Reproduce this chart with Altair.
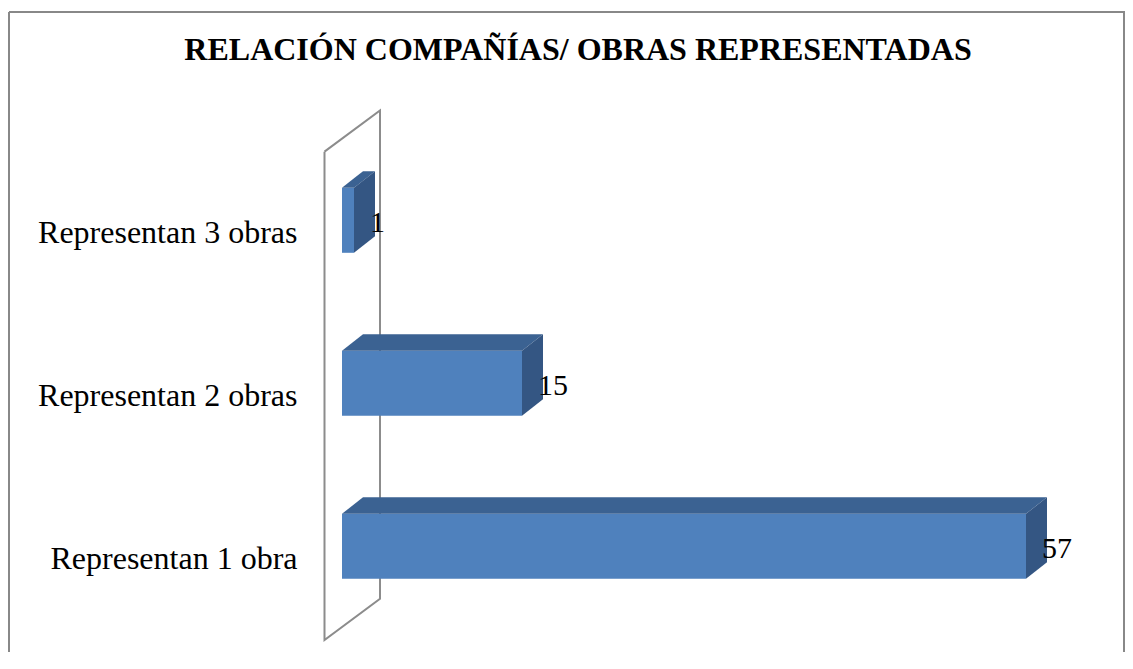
import altair as alt
import pandas as pd

# ---- data ----
categories = ["Representan 1 obra", "Representan 2 obras", "Representan 3 obras"]
values = [57, 15, 1]
positions = [0, 1, 2]

title_text = "RELACIÓN COMPAÑÍAS/ OBRAS REPRESENTADAS"

# ---- geometry / style constants ----
W, H = 1116, 640
PX_X = 12.0          # px per unit on x
PX_Y = 163.0         # px per category step
X0_PLOT = 333.0      # plot-x of value 0
Y0_PLOT = 534.3      # plot-y of category 0
xmin = -X0_PLOT / PX_X
xmax = xmin + W / PX_X
ymax = Y0_PLOT / PX_Y
ymin = ymax - H / PX_Y

HALF = 32.5 / PX_Y   # half bar thickness
DX = 21.0 / PX_X     # 3-D depth offset on x
DY = 16.5 / PX_Y     # 3-D depth offset on y

# wall (side plane) extent
WALL_FRONT_X = -17.5 / PX_X
WALL_BACK_X = 38.0 / PX_X
WALL_TOP = 2.421
WALL_BOTTOM = -0.575
WALL_RISE = 0.253

FRONT = "#4F81BD"
TOP = "#3B6292"
SIDE = "#345683"
FONT = "Liberation Serif"

xs = alt.Scale(domain=[xmin, xmax], nice=False, zero=False)
ys = alt.Scale(domain=[ymin, ymax], nice=False, zero=False)


def polygon_band(poly):
    """Return (x, upper, lower) rows for a convex polygon for an area mark."""
    xs_ = sorted(set(round(p[0], 9) for p in poly))
    rows = []
    n = len(poly)
    for x in xs_:
        hits = []
        for i in range(n):
            (px, py), (qx, qy) = poly[i], poly[(i + 1) % n]
            lo, hi = min(px, qx), max(px, qx)
            if lo - 1e-9 <= x <= hi + 1e-9:
                if abs(qx - px) < 1e-12:
                    hits += [py, qy]
                else:
                    t = (x - px) / (qx - px)
                    hits.append(py + t * (qy - py))
        rows.append((x, max(hits), min(hits)))
    return rows


bars = pd.DataFrame({"cat": categories, "value": values, "pos": positions})
bars["lo"] = bars["pos"] - HALF
bars["hi"] = bars["pos"] + HALF

top_rows, side_rows = [], []
for c, v, p in zip(categories, values, positions):
    t, b = p + HALF, p - HALF
    top_poly = [(0, t), (v, t), (v + DX, t + DY), (DX, t + DY)]
    side_poly = [(v, b), (v, t), (v + DX, t + DY), (v + DX, b + DY)]
    for x, u, l in polygon_band(top_poly):
        top_rows.append({"face": c, "x": x, "u": u, "l": l})
    for x, u, l in polygon_band(side_poly):
        side_rows.append({"face": c, "x": x, "u": u, "l": l})
top_df = pd.DataFrame(top_rows)
side_df = pd.DataFrame(side_rows)

wall_pts = [
    (WALL_FRONT_X, WALL_TOP),
    (WALL_BACK_X, WALL_TOP + WALL_RISE),
    (WALL_BACK_X, WALL_BOTTOM + WALL_RISE),
    (WALL_FRONT_X, WALL_BOTTOM),
    (WALL_FRONT_X, WALL_TOP),
]
wall_df = pd.DataFrame({"x": [p[0] for p in wall_pts],
                        "y": [p[1] for p in wall_pts],
                        "o": list(range(len(wall_pts)))})

label_expr = " : ".join(
    f"datum.value == {p} ? '{c}'" for p, c in zip(positions, categories)
) + " : ''"

y_axis = alt.Axis(
    values=positions, labelExpr=label_expr, grid=False, domain=False,
    ticks=False, tickSize=0, labelPadding=0, offset=-288,
    labelFont=FONT, labelFontSize=32, labelColor="black",
    labelAlign="right", labelBaseline="alphabetic", labelOffset=22,
    labelLimit=500, title=None,
)

wall = alt.Chart(wall_df).mark_line(color="#8C8C8C", strokeWidth=2).encode(
    x=alt.X("x:Q", scale=xs, axis=None),
    y=alt.Y("y:Q", scale=ys, axis=y_axis),
    order="o:Q",
)

front = alt.Chart(bars).mark_rect(color=FRONT).encode(
    x=alt.X("value:Q", scale=xs, axis=None),
    x2=alt.datum(0),
    y=alt.Y("lo:Q", scale=ys, axis=y_axis),
    y2="hi:Q",
)

top = alt.Chart(top_df).mark_area(color=TOP, orient="vertical").encode(
    x=alt.X("x:Q", scale=xs, axis=None),
    y=alt.Y("u:Q", scale=ys, axis=y_axis, stack=False),
    y2="l:Q",
    detail="face:N",
)

side = alt.Chart(side_df).mark_area(color=SIDE, orient="vertical").encode(
    x=alt.X("x:Q", scale=xs, axis=None),
    y=alt.Y("u:Q", scale=ys, axis=y_axis, stack=False),
    y2="l:Q",
    detail="face:N",
)

vals = alt.Chart(bars).mark_text(
    font=FONT, fontSize=30, color="black", align="left",
    baseline="alphabetic", dx=16, dy=11.5,
).encode(
    x=alt.X("value:Q", scale=xs, axis=None),
    y=alt.Y("pos:Q", scale=ys, axis=y_axis),
    text="value:Q",
)

one = pd.DataFrame({"k": [0]})
frame_col = "#888888"
f_top = alt.Chart(one).mark_rule(color=frame_col, strokeWidth=2).encode(
    x=alt.value(0), x2=alt.value(W), y=alt.value(0))
f_left = alt.Chart(one).mark_rule(color=frame_col, strokeWidth=2).encode(
    x=alt.value(0), y=alt.value(0), y2=alt.value(H))
f_right = alt.Chart(one).mark_rule(color=frame_col, strokeWidth=2).encode(
    x=alt.value(W - 1), y=alt.value(0), y2=alt.value(H))

chart = alt.layer(wall, front, top, side, vals, f_top, f_left, f_right).properties(
    width=W, height=H,
    autosize=alt.AutoSizeParams(type="none"),
    padding={"left": 1, "top": 4, "right": 0, "bottom": 0},
    title=alt.TitleParams(
        text=title_text, font=FONT, fontSize=32, fontWeight="bold",
        color="black", anchor="middle", frame="group",
        baseline="alphabetic", offset=-81, dx=11,
    ),
    background="white",
).configure_view(strokeWidth=0)

chart.save("out.html", embed_options={"renderer": "svg", "actions": False})
